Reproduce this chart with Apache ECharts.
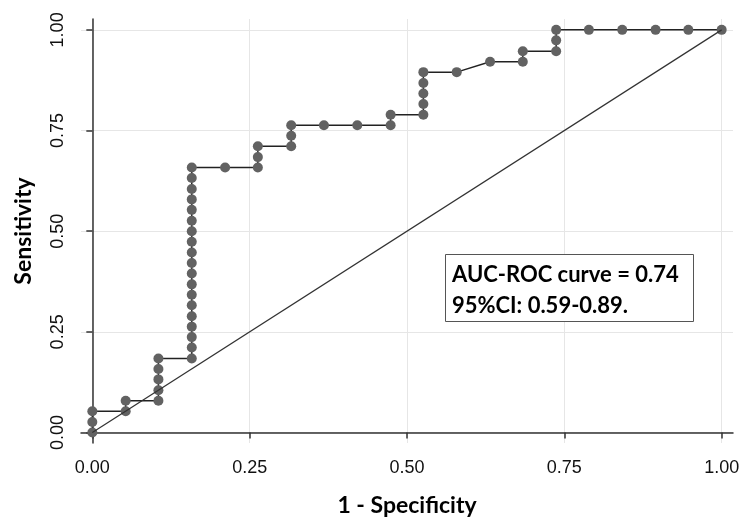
<!DOCTYPE html>
<html>
<head>
<meta charset="utf-8">
<script src="https://cdn.jsdelivr.net/npm/echarts@6/dist/echarts.min.js"></script>
<style>
  html, body { margin: 0; padding: 0; background: #fff; }
  #main { width: 756px; height: 526px; }
</style>
</head>
<body>
<div id="main"></div>
<script>
// ROC curve
var fpr = [
  0, 0, 0,
  0.053, 0.053,
  0.105, 0.105, 0.105, 0.105, 0.105,
  0.158, 0.158, 0.158, 0.158, 0.158, 0.158, 0.158, 0.158, 0.158, 0.158,
  0.158, 0.158, 0.158, 0.158, 0.158, 0.158, 0.158, 0.158, 0.158,
  0.211,
  0.263, 0.263, 0.263,
  0.316, 0.316, 0.316,
  0.368, 0.421, 0.474, 0.474,
  0.526, 0.526, 0.526, 0.526, 0.526,
  0.579,
  0.632,
  0.684, 0.684,
  0.737, 0.737, 0.737,
  0.789, 0.842, 0.895, 0.947, 1
];
var sens = [
  0, 0.026, 0.053,
  0.053, 0.079,
  0.079, 0.105, 0.132, 0.158, 0.184,
  0.184, 0.211, 0.237, 0.263, 0.289, 0.316, 0.342, 0.368, 0.395, 0.421,
  0.447, 0.474, 0.500, 0.526, 0.553, 0.579, 0.605, 0.632, 0.658,
  0.658,
  0.658, 0.684, 0.711,
  0.711, 0.737, 0.763,
  0.763, 0.763, 0.763, 0.789,
  0.789, 0.816, 0.842, 0.868, 0.895,
  0.895,
  0.921,
  0.921, 0.947,
  0.947, 0.974, 1,
  1, 1, 1, 1, 1
];
var refX = [0, 1];
var refY = [0, 1];
var ticks = [0, 0.25, 0.5, 0.75, 1];
var boxLines = ['AUC-ROC curve = 0.74', '95%CI: 0.59-0.89.'];

var rocData = fpr.map(function (x, i) { return [x, sens[i]]; });
var refData = refX.map(function (x, i) { return [x, refY[i]]; });

var myChart = echarts.init(document.getElementById('main'));
var axisCol = '#333';
var option = {
  animation: false,
  grid: { left: 81, right: 23, top: 19, bottom: 83 },
  xAxis: {
    type: 'value',
    min: -0.018, max: 1.018,
    name: '1 - Specificity',
    nameLocation: 'middle',
    nameGap: 51,
    nameTextStyle: { fontFamily: 'Lato', fontWeight: 'bold', fontSize: 23, color: '#000' },
    axisLine: { show: true, lineStyle: { color: axisCol, width: 1.5 } },
    axisTick: { show: true, length: 6, customValues: ticks, lineStyle: { color: axisCol, width: 1.5 } },
    axisLabel: {
      customValues: ticks, margin: 16,
      fontFamily: 'Liberation Sans', fontSize: 18, color: '#111',
      formatter: function (v) { return v.toFixed(2); }
    },
    splitLine: { show: true, lineStyle: { color: '#e6e6e6', width: 1 } }
  },
  yAxis: {
    type: 'value',
    min: -0.026, max: 1.027,
    name: 'Sensitivity',
    nameLocation: 'middle',
    nameGap: 46,
    nameTextStyle: { fontFamily: 'Lato', fontWeight: 'bold', fontSize: 23, color: '#000' },
    axisLine: { show: true, lineStyle: { color: axisCol, width: 1.5 } },
    axisTick: { show: true, length: 6, customValues: ticks, lineStyle: { color: axisCol, width: 1.5 } },
    axisLabel: {
      customValues: ticks, margin: 14, rotate: 90,
      fontFamily: 'Liberation Sans', fontSize: 18, color: '#111',
      formatter: function (v) { return v.toFixed(2); }
    },
    splitLine: { show: true, lineStyle: { color: '#e6e6e6', width: 1 } }
  },
  graphic: [
    {
      type: 'rect', left: 445, top: 254, z: 100,
      shape: { width: 248, height: 67 },
      style: { fill: '#fff', stroke: '#555', lineWidth: 1 }
    },
    {
      type: 'text', left: 452, top: 259, z: 101,
      style: {
        text: boxLines.join('\n'),
        font: 'bold 22px Lato',
        lineHeight: 31,
        fill: '#000'
      }
    }
  ],
  series: [
    {
      type: 'line',
      data: rocData,
      symbol: 'circle',
      symbolSize: 10,
      itemStyle: { color: '#626262' },
      lineStyle: { color: '#222', width: 1.5 },
      z: 2
    },
    {
      type: 'line',
      data: refData,
      symbol: 'none',
      lineStyle: { color: '#333', width: 1.2 },
      z: 3
    }
  ]
};
myChart.setOption(option);
</script>
</body>
</html>
